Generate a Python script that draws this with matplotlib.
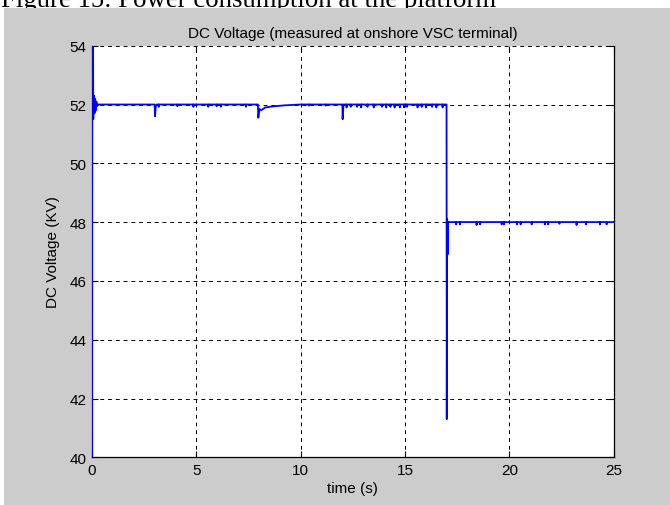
import matplotlib
matplotlib.use("Agg")
import matplotlib.pyplot as plt
from matplotlib.patches import Rectangle

# breakpoints of the DC voltage trace (time in s, voltage in kV)
t_main = [0.0, 0.01, 0.05, 0.06, 0.09, 0.12, 0.15, 0.18, 0.21, 0.25, 0.3,
          3.0, 3.02, 3.06, 3.1,
          7.95, 7.97, 8.02, 8.1, 8.3, 8.6, 9.2, 10.0,
          12.0, 12.01, 12.05,
          16.99, 17.0, 17.02, 17.04, 17.06, 25.0]
v_main = [40.0, 54.6, 54.6, 51.5, 52.3, 51.7, 52.2, 51.8, 52.1, 51.95, 52.0,
          52.0, 51.6, 51.95, 52.0,
          52.0, 51.55, 51.85, 51.8, 51.9, 51.93, 51.97, 52.0,
          52.0, 51.5, 52.0,
          52.0, 41.3, 48.1, 46.9, 48.0, 48.0]

# small downward glitches on the 52 kV plateau
spike_t_52 = [3.2, 4.09, 4.86, 5.57, 5.97, 6.18, 7.38, 10.4, 11.2,
              12.2, 12.4, 12.7, 12.9, 13.2, 13.5, 13.9, 14.1, 14.3, 14.5,
              14.75, 14.95, 15.1, 15.6, 15.8, 16.0, 16.3, 16.5, 16.8]
spike_d_52 = [0.08, 0.06, 0.08, 0.08, 0.06, 0.08, 0.08, 0.04, 0.04,
              0.1, 0.08, 0.08, 0.1, 0.08, 0.1, 0.08, 0.1, 0.08, 0.1,
              0.1, 0.1, 0.08, 0.1, 0.08, 0.1, 0.08, 0.1, 0.1]

# small glitches on the 48 kV plateau
spike_t_48 = [17.45, 17.63, 18.43, 18.6, 19.63, 19.74, 20.36, 20.54, 21.07,
              21.7, 21.86, 22.4, 23.22, 23.67, 24.34, 24.66]
spike_d_48 = [0.08, 0.08, 0.1, 0.08, 0.08, 0.08, 0.08, 0.08, 0.08,
              0.08, 0.08, 0.06, 0.1, 0.08, 0.08, 0.08]

# merge glitches into trace
pts = list(zip(t_main, v_main))
for ts, ds, base in ((spike_t_52, spike_d_52, 52.0), (spike_t_48, spike_d_48, 48.0)):
    for t, d in zip(ts, ds):
        pts += [(t - 0.01, base), (t, base - d), (t + 0.01, base)]
pts.sort(key=lambda p: p[0])
t_all = [p[0] for p in pts]
v_all = [p[1] for p in pts]

W, H = 670, 506
fig = plt.figure(figsize=(W / 100, H / 100), dpi=100)
fig.patch.set_facecolor("white")

# caption of the document page, partly hidden behind the grey panel
fig.text(1 / W, 1 - 6.7 / H, "Figure 15: Power consumption at the platform",
         family="Liberation Serif", fontsize=19.3, va="baseline", ha="left",
         zorder=-3)
fig.patches.append(Rectangle((4 / W, 0), 1 - 4 / W, 1 - 8.5 / H,
                             transform=fig.transFigure, facecolor="#cccccc",
                             edgecolor="none", zorder=-2))

ax = fig.add_axes([92 / W, 1 - 458.3 / H, (613.7 - 92) / W, (458.3 - 46.7) / H])
ax.set_facecolor("white")
ax.plot(t_all, v_all, color="#0000ff", lw=1.3, zorder=3)

ax.set_xlim(0, 25)
ax.set_ylim(40, 54)
ax.set_xticks([0, 5, 10, 15, 20, 25])
ax.set_yticks([40, 42, 44, 46, 48, 50, 52, 54])

fs = 11
ax.tick_params(direction="in", length=4, width=0.8, top=True, right=True,
               labelsize=fs, pad=4)
for lab in ax.get_xticklabels() + ax.get_yticklabels():
    lab.set_family("Liberation Sans")
ax.grid(True, color="black", linestyle=(0, (4, 4)), lw=0.7)
ax.spines["top"].set_visible(False)
for s in ("left", "right", "bottom"):
    ax.spines[s].set_linewidth(0.9)

ax.set_title("DC Voltage (measured at onshore VSC terminal)",
             family="Liberation Sans", fontsize=fs, pad=6)
ax.set_xlabel("time (s)", family="Liberation Sans", fontsize=fs, labelpad=3)
ax.set_ylabel("DC Voltage (KV)", family="Liberation Sans", fontsize=fs, labelpad=7)

fig.savefig("out.png", dpi=100)
